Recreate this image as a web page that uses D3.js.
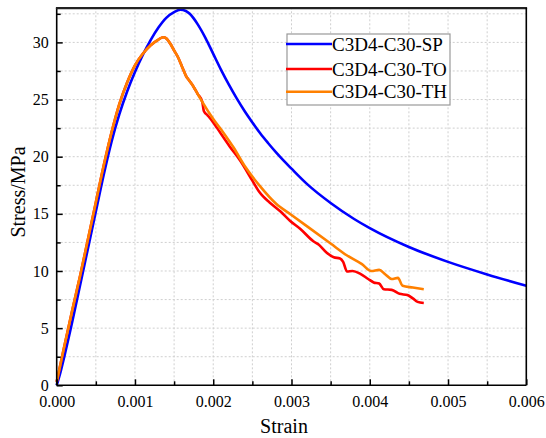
<!DOCTYPE html>
<html>
<head>
<meta charset="utf-8">
<script src="https://cdn.jsdelivr.net/npm/d3@7"></script>
</head>
<body style="margin:0;background:#fff">
<svg id="chart" width="546" height="438" style="display:block"></svg>
<script>
// ---------- data ----------
const seriesNames = ["C3D4-C30-SP", "C3D4-C30-TO", "C3D4-C30-TH"];
const seriesColors = ["#0000FF", "#FF0000", "#FF8000"];

const xTicks = [0, 0.001, 0.002, 0.003, 0.004, 0.005, 0.006];
const xTickLabels = ["0.000", "0.001", "0.002", "0.003", "0.004", "0.005", "0.006"];
const yTicks = [0, 5, 10, 15, 20, 25, 30];
const yTickLabels = ["0", "5", "10", "15", "20", "25", "30"];

// [strain, stress MPa]
const spData = [
  [0,0],[0.00005,1.2],[0.0001,2.6],[0.0002,5.6],[0.0003,8.8],[0.0004,12.0],
  [0.0005,15.2],[0.0006,18.4],[0.0007,21.3],[0.0008,23.7],[0.0009,25.7],[0.001,27.4],
  [0.0011,28.9],[0.0012,30.2],[0.0013,31.3],[0.0014,32.15],[0.0015,32.65],[0.00158,32.85],
  [0.00165,32.75],[0.0017,32.5],[0.00175,32.1],[0.0018,31.6],[0.0019,30.4],[0.002,29.0],
  [0.0021,27.6],[0.0022,26.3],[0.0023,25.1],[0.0024,24.0],[0.0025,23.0],[0.0026,22.05],
  [0.0027,21.2],[0.0028,20.4],[0.0029,19.65],[0.003,18.95],[0.0032,17.6],[0.0035,15.95],
  [0.0038,14.55],[0.004,13.75],[0.0045,12.1],[0.005,10.8],[0.0055,9.7],[0.006,8.7]
];
const toData = [
  [0,0.3],[0.0001,3.5],[0.0002,6.6],[0.0003,9.6],[0.0004,12.8],[0.0005,16.0],
  [0.0006,19.2],[0.0007,22.1],[0.0008,24.6],[0.0009,26.5],[0.001,28.0],[0.0011,29.0],
  [0.0012,29.75],[0.0013,30.25],[0.00136,30.45],[0.0014,30.35],[0.00145,29.9],[0.0015,29.3],
  [0.00155,28.7],[0.0016,27.9],[0.00165,27.1],[0.0017,26.6],[0.00175,26.1],[0.0018,25.5],
  [0.00186,24.8],[0.00188,24.0],[0.00193,23.6],[0.002,23.0],[0.00205,22.5],[0.00221,20.9],
  [0.00235,19.6],[0.0025,17.9],[0.00258,17.0],[0.00264,16.5],[0.00272,16.0],[0.00286,15.2],
  [0.00298,14.4],[0.00311,13.7],[0.00328,12.6],[0.00335,12.3],[0.00345,11.6],[0.00354,11.2],
  [0.00362,11.1],[0.00366,10.8],[0.00371,9.95],[0.00378,10.0],[0.00388,9.75],[0.00398,9.3],
  [0.00405,9.0],[0.00412,8.9],[0.00418,8.4],[0.00428,8.35],[0.00438,8.0],[0.00448,7.9],
  [0.00455,7.6],[0.00461,7.3],[0.00469,7.2]
];
const thData = [
  [0,0.3],[0.0001,3.5],[0.0002,6.6],[0.0003,9.6],[0.0004,12.8],[0.0005,16.0],
  [0.0006,19.2],[0.0007,22.1],[0.0008,24.6],[0.0009,26.5],[0.001,28.0],[0.0011,29.0],
  [0.0012,29.75],[0.0013,30.25],[0.00136,30.45],[0.0014,30.35],[0.00145,29.9],[0.0015,29.3],
  [0.00155,28.7],[0.0016,27.9],[0.00165,27.1],[0.0017,26.6],[0.00175,26.1],[0.0018,25.5],
  [0.00186,24.8],[0.002,23.3],[0.00213,22.1],[0.00226,20.8],[0.0024,19.2],[0.0026,17.4],
  [0.0028,15.9],[0.003,14.9],[0.0032,13.9],[0.0035,12.4],[0.0037,11.4],[0.0039,10.6],
  [0.00402,10.0],[0.00412,10.1],[0.0042,9.7],[0.00428,9.3],[0.00436,9.4],[0.00442,8.7],
  [0.00455,8.55],[0.00469,8.4]
];
const allSeries = [spData, toData, thData];

// ---------- layout ----------
const FONT = "'Liberation Serif', 'Times New Roman', serif";
const svg = d3.select("#chart");
const x = d3.scaleLinear().domain([0, 0.006]).range([56.7, 526.3]);
const y = d3.scaleLinear().domain([0, 33]).range([385.3, 8.1]);
const [x0, x1] = x.range();
const [y0, y1] = y.range();

// grid (major + minor)
const xGrid = d3.range(0, 0.00601, 0.0005);
const yGrid = d3.range(0, 33, 2.5);
const grid = svg.append("g").attr("stroke", "#cfcfcf").attr("stroke-width", 1).attr("stroke-dasharray", "2,2");
grid.selectAll("line.gx").data(xGrid.slice(1, -1)).join("line")
  .attr("x1", d => x(d)).attr("x2", d => x(d)).attr("y1", y0).attr("y2", y1);
grid.selectAll("line.gy").data(yGrid.slice(1)).join("line")
  .attr("y1", d => y(d)).attr("y2", d => y(d)).attr("x1", x0).attr("x2", x1);

// curves
const line = d3.line().x(d => x(d[0])).y(d => y(d[1])).curve(d3.curveMonotoneX);
svg.append("g").selectAll("path").data(allSeries).join("path")
  .attr("d", d => line(d))
  .attr("fill", "none")
  .attr("stroke", (d, i) => seriesColors[i])
  .attr("stroke-width", 2.6)
  .attr("stroke-linejoin", "round");

// axes
const xAxis = d3.axisBottom(x).tickValues(xTicks).tickFormat((d, i) => xTickLabels[i]).tickSizeInner(-6).tickSizeOuter(0).tickPadding(13);
const yAxis = d3.axisLeft(y).tickValues(yTicks).tickFormat((d, i) => yTickLabels[i]).tickSizeInner(-6).tickSizeOuter(0).tickPadding(13);
const gx = svg.append("g").attr("transform", `translate(0,${y0})`).call(xAxis);
const gy = svg.append("g").attr("transform", `translate(${x0},0)`).call(yAxis);
[gx, gy].forEach(g => {
  g.attr("font-family", null).attr("font-size", null);
  g.select(".domain").remove();
  g.selectAll(".tick line").attr("stroke", "#000").attr("stroke-width", 1.5);
  g.selectAll(".tick text").style("font-family", FONT).style("font-size", "16px").attr("fill", "#000");
});
gy.selectAll(".tick text").attr("x", -8);
gx.selectAll(".tick text").attr("y", 10);
// minor ticks
const xMinor = d3.axisBottom(x).tickValues(d3.range(0.0005, 0.006, 0.001)).tickFormat("").tickSizeInner(-4).tickSizeOuter(0);
const yMinor = d3.axisLeft(y).tickValues(d3.range(2.5, 33, 5)).tickFormat("").tickSizeInner(-4).tickSizeOuter(0);
[svg.append("g").attr("transform", `translate(0,${y0})`).call(xMinor),
 svg.append("g").attr("transform", `translate(${x0},0)`).call(yMinor)].forEach(g => {
  g.select(".domain").remove();
  g.selectAll(".tick line").attr("stroke", "#000").attr("stroke-width", 1.5);
});

// frame
svg.append("line").attr("x1", x0).attr("x2", x1).attr("y1", y0).attr("y2", y0).attr("stroke", "#000").attr("stroke-width", 1.6);
svg.append("line").attr("x1", x0).attr("x2", x0).attr("y1", y0).attr("y2", y1).attr("stroke", "#000").attr("stroke-width", 1.6);
svg.append("line").attr("x1", x0 - 0.8).attr("x2", x1 + 0.8).attr("y1", y1).attr("y2", y1).attr("stroke", "#222").attr("stroke-width", 2.2);
svg.append("line").attr("x1", x1).attr("x2", x1).attr("y1", y0).attr("y2", y1).attr("stroke", "#000").attr("stroke-width", 1.6);

// axis titles
svg.append("text").attr("x", 284).attr("y", 433).attr("text-anchor", "middle")
  .style("font-family", FONT).style("font-size", "20px").text("Strain");
svg.append("text").attr("transform", "translate(25,192) rotate(-90)").attr("text-anchor", "middle")
  .style("font-family", FONT).style("font-size", "20px").text("Stress/MPa");

// legend
const lg = svg.append("g");
lg.append("rect").attr("x", 287).attr("y", 34).attr("width", 163).attr("height", 71)
  .attr("fill", "#fff").attr("stroke", "#999").attr("stroke-width", 1.2);
const legY = [44, 69, 91.7];
seriesNames.forEach((name, i) => {
  lg.append("line").attr("x1", 286).attr("x2", 332).attr("y1", legY[i]).attr("y2", legY[i])
    .attr("stroke", seriesColors[i]).attr("stroke-width", 2.6);
  lg.append("text").attr("x", 332).attr("y", legY[i] + 6.5)
    .style("font-family", FONT).style("font-size", "19px").text(name);
});
</script>
</body>
</html>
